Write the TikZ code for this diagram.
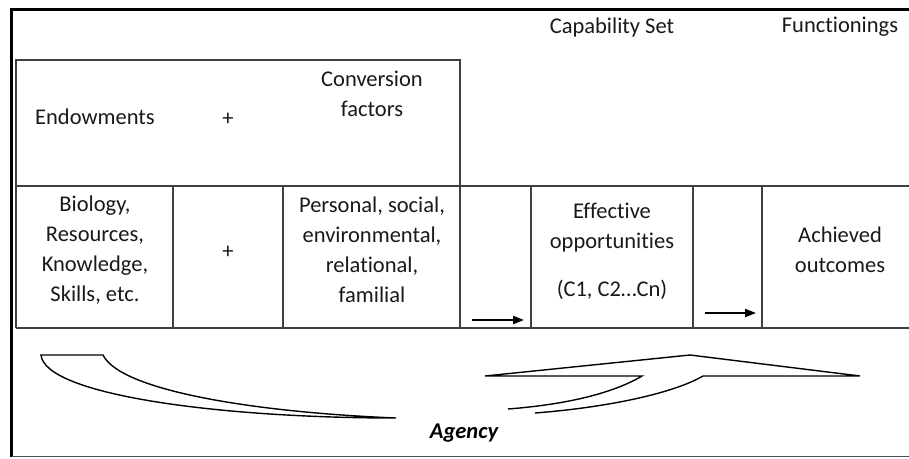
\documentclass[tikz,border=0pt]{standalone}
\usepackage{fontspec}
\setmainfont[Ligatures=CommonOff]{Carlito}
\usetikzlibrary{arrows.meta}
\begin{document}
\begin{tikzpicture}[x=1pt,y=-1pt,
  grid/.style={draw=black!75, line width=1.3pt},
  frame/.style={draw=black, line width=2.6pt},
  txt/.style={font=\fontsize{22.5}{30}\selectfont, align=center, inner sep=0pt, text=black!90},
  swoosh/.style={draw=black, line width=1.4pt, line join=miter},
  arr/.style={-{Triangle[length=11pt,width=8pt]}, line width=2pt}]
\useasboundingbox (0,0) rectangle (909,458);
% outer frame
\draw[frame] (909,9.5) -- (11.5,9.5) -- (11.5,456.5);
\draw[draw=black!70, line width=1.6pt] (11.5,456.5) -- (909,456.5);
% table
\draw[grid] (16,328) -- (16,60) -- (460,60) -- (460,328);
\draw[grid] (16,186) -- (909,186);
\draw[grid] (16,328) -- (909,328);
\draw[grid] (173,186) -- (173,328);
\draw[grid] (283,186) -- (283,328);
\draw[grid] (531,185) -- (531,328);
\draw[grid] (693,185) -- (693,328);
\draw[grid] (762,185) -- (762,328);
% header texts
\node[txt] (cap) at (612,27) {Capability Set};
\node[txt] (fun) at (840,27) {Functionings};
\node[txt] (endw) at (95,117) {Endowments};
\node[txt] (plus1) at (228,119) {+};
\node[txt] (conv) at (372,94) {Conversion\\factors};
% lower row
\node[txt] (bio) at (95,250) {Biology,\\Resources,\\Knowledge,\\Skills, etc.};
\node[txt] (plus2) at (228,252) {+};
\node[txt] (pers) at (372,250) {Personal, social,\\environmental,\\relational,\\familial};
\node[txt] (eff) at (612,228) {Effective\\opportunities};
\node[txt] (cn) at (612,290) {(C1, C2…Cn)};
\node[txt] (ach) at (840,250) {Achieved\\outcomes};
% arrows
\coordinate (a1s) at (472,320);
\coordinate (a1e) at (524,320);
\coordinate (a2s) at (705,313);
\coordinate (a2e) at (756,313);
\draw[arr] (a1s) -- (a1e);
\draw[arr] (a2s) -- (a2e);
% left swoosh
\draw[swoosh] (41,355) -- (103,355) .. controls (120,390) and (250,412) .. (396,418)
  .. controls (220,418) and (45,395) .. (41,355) -- cycle;
% right swoosh
\draw[swoosh] (508,409) .. controls (560,405) and (610,395) .. (642,376) -- (485,376)
  -- (690,355) -- (860,376) -- (703,376) .. controls (670,395) and (600,408) .. (535,413);
% agency
\node[txt, font=\fontsize{22.5}{30}\selectfont\bfseries\itshape, text=black] (ag) at (464,433) {Agency};
\end{tikzpicture}
\end{document}
